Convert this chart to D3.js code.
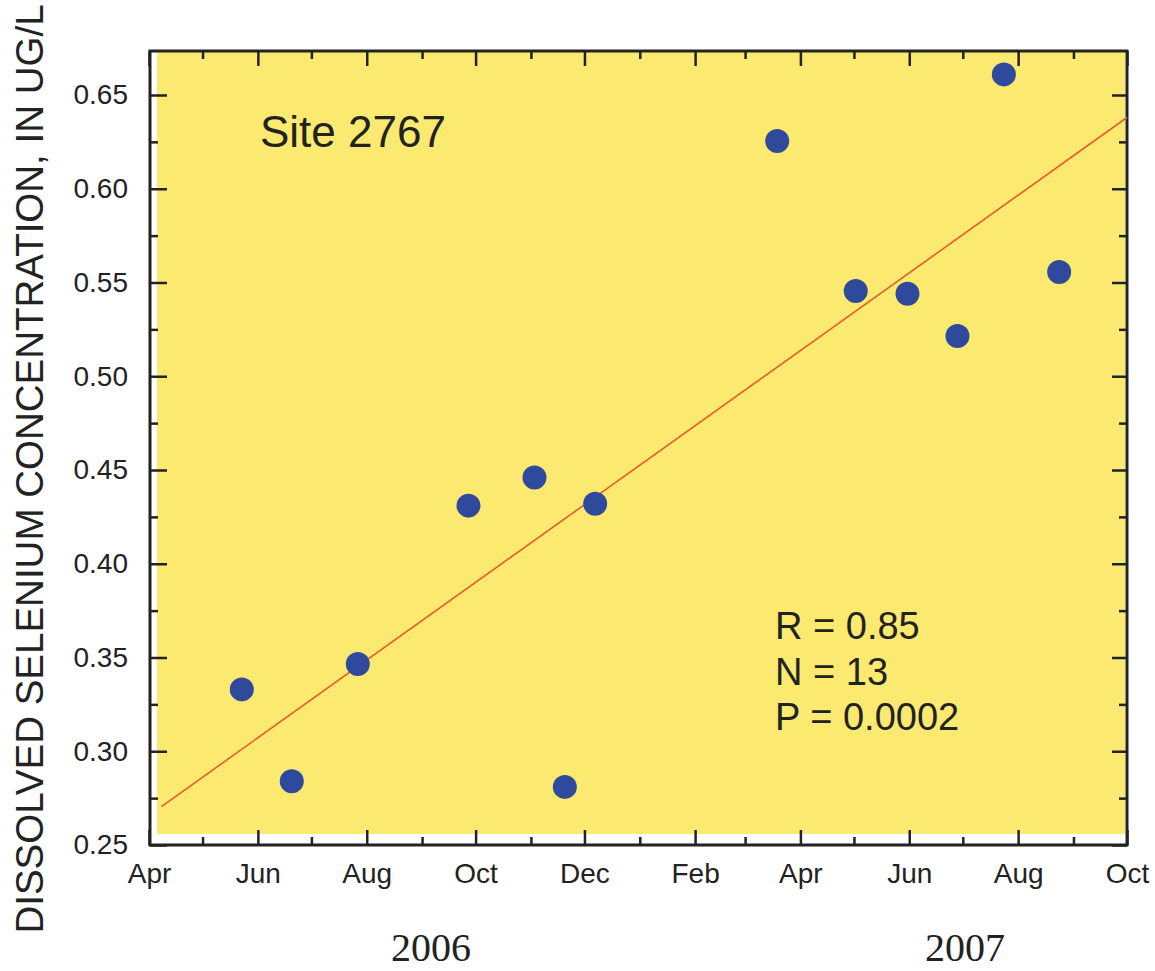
<!DOCTYPE html>
<html>
<head>
<meta charset="utf-8">
<script src="https://cdn.jsdelivr.net/npm/d3@7"></script>
<style>
  body { margin: 0; background: #fff; }
  svg { display: block; }
</style>
</head>
<body>
<div id="chart"></div>
<script>
// sample dates and dissolved selenium (ug/L)
const sampleDates = ["2006-05-23", "2006-06-20", "2006-07-27", "2006-09-27", "2006-11-03",
  "2006-11-20", "2006-12-07", "2007-03-19", "2007-05-02", "2007-05-31",
  "2007-06-28", "2007-07-24", "2007-08-24"]
const seleniumValues = [0.333, 0.284, 0.3465, 0.431, 0.446, 0.281, 0.432,
  0.6255, 0.5455, 0.544, 0.5215, 0.661, 0.5556]

// regression line end points
const trendDates = ["2006-04-08", "2007-10-01"]
const trendValues = [0.2705, 0.638]

const yTickValues = [0.25, 0.30, 0.35, 0.40, 0.45, 0.50, 0.55, 0.60, 0.65]
const yMinorValues = [0.275, 0.325, 0.375, 0.425, 0.475, 0.525, 0.575, 0.625]
const yearLabels = ["2006", "2007"]
const siteLabel = "Site 2767"
const statsLines = ["R = 0.85", "N = 13", "P = 0.0002"]

const parse = d3.timeParse("%Y-%m-%d")
const width = 1155
const height = 971
const plotLeft = 150, plotRight = 1127, plotTop = 51, plotBottom = 845

const x = d3.scaleTime()
  .domain([new Date(2006, 3, 1), new Date(2007, 9, 1)])
  .range([plotLeft - 1, plotRight])
const y = d3.scaleLinear()
  .domain([0.25, 0.65])
  .range([plotBottom, 95])

const months = d3.timeMonth.range(new Date(2006, 3, 1), new Date(2007, 9, 2))
const majorMonths = months.filter((d, i) => i % 2 === 0)
const minorMonths = months.filter((d, i) => i % 2 === 1)

const svg = d3.select("#chart").append("svg")
  .attr("width", width)
  .attr("height", height)
  .attr("font-family", "Liberation Sans, Arial, sans-serif")

// yellow plot background, a bit inset from the frame
svg.append("rect")
  .attr("x", plotLeft + 7)
  .attr("y", plotTop + 1)
  .attr("width", plotRight - plotLeft - 9)
  .attr("height", plotBottom - plotTop - 12)
  .attr("fill", "#fbea6f")

const ink = "#222"

function styleAxis(g) {
  g.select(".domain").remove()
  g.selectAll(".tick line").attr("stroke", ink).attr("stroke-width", 2.5)
  g.selectAll(".tick text").attr("fill", ink).attr("font-size", 28)
}

// bottom axis: labelled majors, short minors
svg.append("g")
  .attr("transform", `translate(0,${plotBottom})`)
  .call(d3.axisBottom(x).tickValues(majorMonths).tickSize(-15).tickPadding(18)
    .tickFormat(d3.timeFormat("%b")))
  .call(styleAxis)
svg.append("g")
  .attr("transform", `translate(0,${plotBottom})`)
  .call(d3.axisBottom(x).tickValues(minorMonths).tickSize(-8).tickFormat(""))
  .call(styleAxis)

// top axis, ticks only
svg.append("g")
  .attr("transform", `translate(0,${plotTop})`)
  .call(d3.axisTop(x).tickValues(majorMonths).tickSize(-15).tickFormat(""))
  .call(styleAxis)
svg.append("g")
  .attr("transform", `translate(0,${plotTop})`)
  .call(d3.axisTop(x).tickValues(minorMonths).tickSize(-8).tickFormat(""))
  .call(styleAxis)

// left axis
svg.append("g")
  .attr("transform", `translate(${plotLeft},0)`)
  .call(d3.axisLeft(y).tickValues(yTickValues).tickSize(-17).tickPadding(22)
    .tickFormat(d3.format(".2f")))
  .call(styleAxis)
svg.append("g")
  .attr("transform", `translate(${plotLeft},0)`)
  .call(d3.axisLeft(y).tickValues(yMinorValues).tickSize(-8).tickFormat(""))
  .call(styleAxis)

// right axis
svg.append("g")
  .attr("transform", `translate(${plotRight},0)`)
  .call(d3.axisRight(y).tickValues(yTickValues).tickSize(-15).tickFormat(""))
  .call(styleAxis)
svg.append("g")
  .attr("transform", `translate(${plotRight},0)`)
  .call(d3.axisRight(y).tickValues(yMinorValues).tickSize(-8).tickFormat(""))
  .call(styleAxis)

// frame
svg.append("rect")
  .attr("x", plotLeft)
  .attr("y", plotTop)
  .attr("width", plotRight - plotLeft)
  .attr("height", plotBottom - plotTop)
  .attr("fill", "none")
  .attr("stroke", ink)
  .attr("stroke-width", 3)

// trend line
const trend = trendDates.map((d, i) => ({ date: parse(d), value: trendValues[i] }))
svg.append("path")
  .datum(trend)
  .attr("fill", "none")
  .attr("stroke", "#ec5a2a")
  .attr("stroke-width", 1.6)
  .attr("d", d3.line().x(d => x(d.date)).y(d => y(d.value)))

// samples
const samples = sampleDates.map((d, i) => ({ date: parse(d), value: seleniumValues[i] }))
svg.append("g")
  .selectAll("circle")
  .data(samples)
  .join("circle")
  .attr("cx", d => x(d.date))
  .attr("cy", d => y(d.value))
  .attr("r", 12)
  .attr("fill", "#2f4a9c")

// annotations
svg.append("text")
  .attr("x", 260)
  .attr("y", 147)
  .attr("font-size", 44)
  .attr("fill", ink)
  .text(siteLabel)

svg.append("g")
  .selectAll("text")
  .data(statsLines)
  .join("text")
  .attr("x", 775)
  .attr("y", (d, i) => 639 + i * 45.5)
  .attr("font-size", 38)
  .attr("fill", ink)
  .text(d => d)

// year labels under the month axis
const yearX = [431, 965]
svg.append("g")
  .selectAll("text")
  .data(yearLabels)
  .join("text")
  .attr("x", (d, i) => yearX[i])
  .attr("y", 961)
  .attr("text-anchor", "middle")
  .attr("font-family", "Liberation Serif, Times New Roman, serif")
  .attr("font-size", 40)
  .attr("fill", ink)
  .text(d => d)

// y axis title
svg.append("text")
  .attr("transform", "translate(43,469) rotate(-90)")
  .attr("text-anchor", "middle")
  .attr("font-size", 38.5)
  .attr("fill", ink)
  .text("DISSOLVED SELENIUM CONCENTRATION, IN UG/L")
</script>
</body>
</html>
